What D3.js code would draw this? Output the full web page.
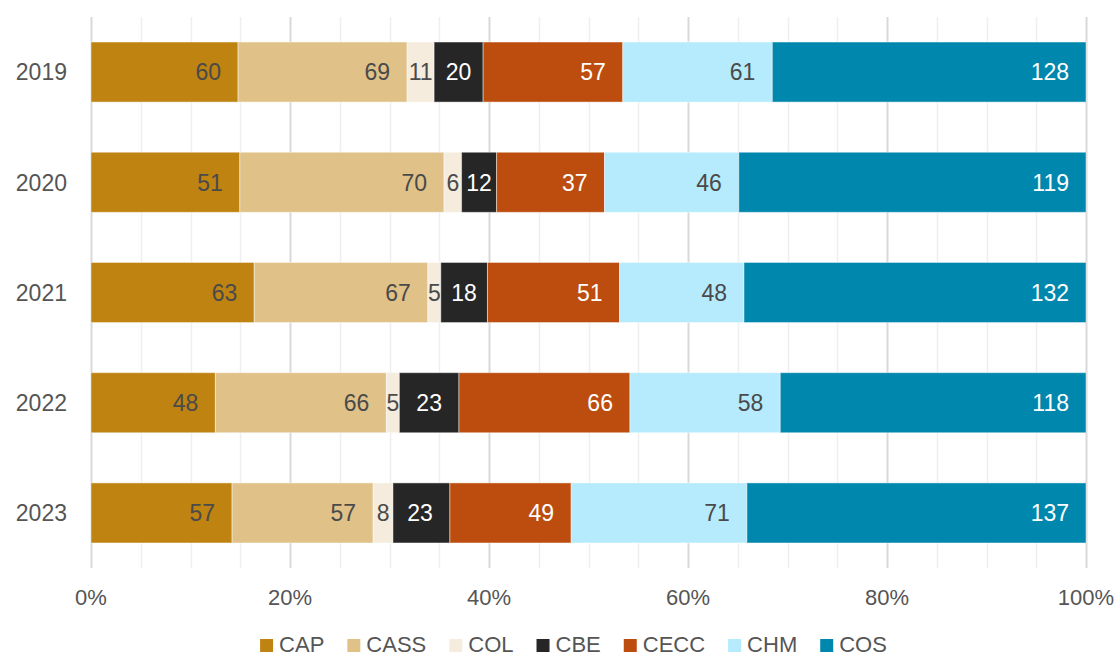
<!DOCTYPE html>
<html>
<head>
<meta charset="utf-8">
<script src="https://cdn.jsdelivr.net/npm/d3@7"></script>
<style>
  body { margin: 0; background: #fff; }
  svg text { font-family: "Liberation Sans", Arimo, Helvetica, Arial, sans-serif; }
</style>
</head>
<body>
<div id="chart"></div>
<script>
// data
const years = ["2019", "2020", "2021", "2022", "2023"];
const colleges = ["CAP", "CASS", "COL", "CBE", "CECC", "CHM", "COS"];
const CAP = [60, 51, 63, 48, 57];
const CASS = [69, 70, 67, 66, 57];
const COL = [11, 6, 5, 5, 8];
const CBE = [20, 12, 18, 23, 23];
const CECC = [57, 37, 51, 66, 49];
const CHM = [61, 46, 48, 58, 71];
const COS = [128, 119, 132, 118, 137];
const xTicks = [0, 0.2, 0.4, 0.6, 0.8, 1];

const seriesValues = { CAP, CASS, COL, CBE, CECC, CHM, COS };
const colors = {
  CAP: "#be8310", CASS: "#e0c289", COL: "#f5ecdd", CBE: "#262626",
  CECC: "#bd4d0f", CHM: "#b5ebfc", COS: "#0087ad"
};
const lightText = { CBE: true, CECC: true, COS: true };

const W = 1119, H = 657;
const svg = d3.select("#chart").append("svg").attr("width", W).attr("height", H);

// build rows with shares
let rows = years.map((y, i) => {
  let r = { year: y };
  let total = 0;
  colleges.forEach(c => { r[c] = seriesValues[c][i]; total += seriesValues[c][i]; });
  colleges.forEach(c => { r[c + "_p"] = r[c] / total; });
  return r;
});

const stack = d3.stack().keys(colleges.map(c => c + "_p"));
const layers = stack(rows);

const x = d3.scaleLinear().domain([0, 1]).range([91, 1086]);
const y = d3.scaleBand().domain(years).range([17, 568]).paddingInner(0.455).paddingOuter(0.227);

// grid: minor every 5%, major every 20%
const grid = svg.append("g");
grid.selectAll("line")
  .data(d3.range(0, 1.0001, 0.05))
  .join("line")
  .attr("x1", d => Math.round(x(d)) + 0.5)
  .attr("x2", d => Math.round(x(d)) + 0.5)
  .attr("y1", 17).attr("y2", 568)
  .attr("stroke", (d, i) => i % 4 === 0 ? "#d9d9d9" : "#efefef")
  .attr("stroke-width", (d, i) => i % 4 === 0 ? 2 : 1.5);

// bars
const gBars = svg.append("g");
layers.forEach((layer, k) => {
  const key = colleges[k];
  const g = gBars.append("g");
  g.selectAll("rect")
    .data(layer)
    .join("rect")
    .attr("x", d => x(d[0]))
    .attr("y", d => y(d.data.year))
    .attr("width", d => x(d[1]) - x(d[0]))
    .attr("height", y.bandwidth())
    .attr("fill", colors[key])
    .attr("stroke", "#ffffff")
    .attr("stroke-opacity", 0.45)
    .attr("stroke-width", 1);

  // value labels: right side of the segment, centred when it is too narrow
  g.selectAll("text")
    .data(layer)
    .join("text")
    .attr("y", d => y(d.data.year) + y.bandwidth() / 2)
    .attr("dy", "0.36em")
    .attr("font-size", 23)
    .attr("fill", lightText[key] ? "#ffffff" : "#4a4a4a")
    .text(d => d.data[key])
    .each(function (d) {
      const t = d3.select(this);
      const w = this.getComputedTextLength();
      const x0 = x(d[0]), x1 = x(d[1]);
      if (w + 17 + 8 < x1 - x0) {
        t.attr("x", x1 - 17).attr("text-anchor", "end");
      } else {
        t.attr("x", (x0 + x1) / 2).attr("text-anchor", "middle");
      }
    });
});

// y labels
svg.append("g").selectAll("text")
  .data(years)
  .join("text")
  .attr("x", 67)
  .attr("y", d => y(d) + y.bandwidth() / 2)
  .attr("dy", "0.36em")
  .attr("text-anchor", "end")
  .attr("font-size", 23)
  .attr("fill", "#555555")
  .text(d => d);

// x axis labels
svg.append("g").selectAll("text")
  .data(xTicks)
  .join("text")
  .attr("x", d => x(d))
  .attr("y", 597)
  .attr("dy", "0.36em")
  .attr("text-anchor", "middle")
  .attr("font-size", 22)
  .attr("fill", "#555555")
  .text(d3.format(".0%"));

// legend
const legend = svg.append("g");
let lx = 0;
colleges.forEach(c => {
  const item = legend.append("g").attr("transform", `translate(${lx},0)`);
  item.append("rect").attr("x", 0).attr("y", -5).attr("width", 13).attr("height", 13).attr("fill", colors[c]);
  const t = item.append("text").attr("x", 19).attr("y", 0).attr("dy", "0.36em")
    .attr("font-size", 22).attr("fill", "#555555").text(c);
  lx += 19 + t.node().getComputedTextLength() + 23;
});
const legendWidth = lx - 23;
legend.attr("transform", `translate(${573.5 - legendWidth / 2},644)`);
</script>
</body>
</html>
